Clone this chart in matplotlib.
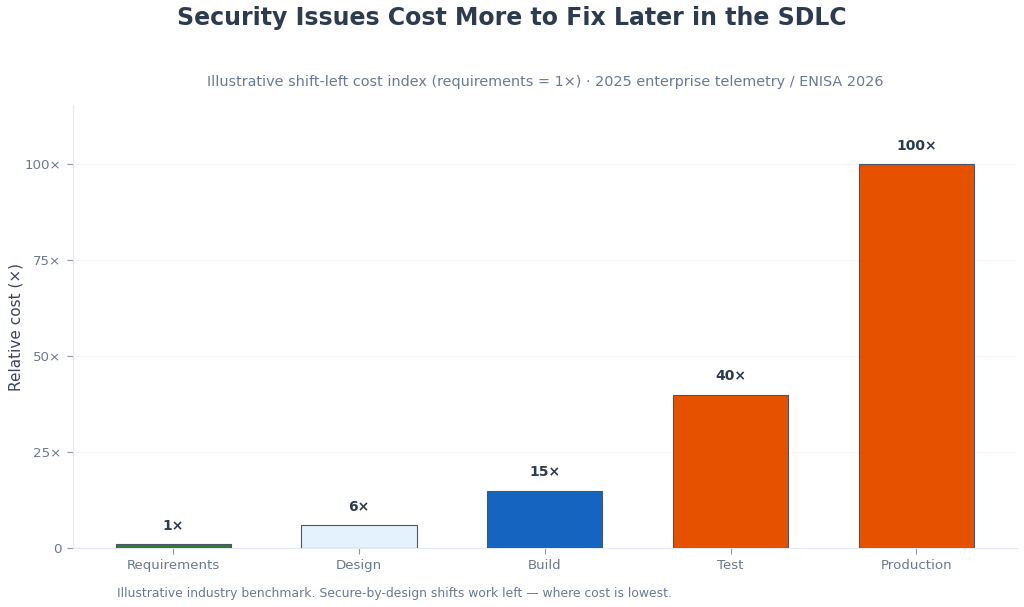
import matplotlib
matplotlib.use("Agg")
import matplotlib.pyplot as plt

# data
stages = ["Requirements", "Design", "Build", "Test", "Production"]
cost = [1, 6, 15, 40, 100]
labels = ["1×", "6×", "15×", "40×", "100×"]
colors = ["#2e7d32", "#e3f2fd", "#1565c0", "#e65100", "#e65100"]
yticks = [0, 25, 50, 75, 100]
ytick_labels = ["0", "25×", "50×", "75×", "100×"]

fig, ax = plt.subplots(figsize=(10.24, 6.07), dpi=100)
fig.subplots_adjust(left=0.071, right=0.993, top=0.827, bottom=0.097)

bars = ax.bar(stages, cost, width=0.62, color=colors, edgecolor="#4a5568", linewidth=0.8, zorder=3)
for b, t in zip(bars, labels):
    ax.text(b.get_x() + b.get_width() / 2, b.get_height() + 3, t,
            ha="center", va="bottom", fontsize=10, fontweight="bold", color="#2d3b4e")

ax.set_ylim(0, 115.4)
ax.set_yticks(yticks)
ax.set_yticklabels(ytick_labels)
ax.grid(axis="y", color="#f3f5f8", linewidth=0.8, zorder=0)
ax.set_ylabel("Relative cost (×)", fontsize=11, color="#3a4659")
ax.yaxis.set_label_coords(-0.052, 0.5)
ax.tick_params(colors="#6b7a90", labelsize=9.6, length=4.5)
ax.tick_params(axis="both", color="#8a96a8")
for s in ["top", "right"]:
    ax.spines[s].set_visible(False)
for s in ["left", "bottom"]:
    ax.spines[s].set_color("#e6eaf0")

fig.suptitle("Security Issues Cost More to Fix Later in the SDLC", fontsize=17,
             fontweight="bold", color="#2d3b4e", y=0.99)
ax.set_title("Illustrative shift-left cost index (requirements = 1×) · 2025 enterprise telemetry / ENISA 2026",
             fontsize=10.4, color="#6b7a90", pad=14)
fig.text(0.114, 0.017, "Illustrative industry benchmark. Secure-by-design shifts work left — where cost is lowest.",
         fontsize=8.9, color="#6b7a90")

fig.savefig("out.png", dpi=100)
